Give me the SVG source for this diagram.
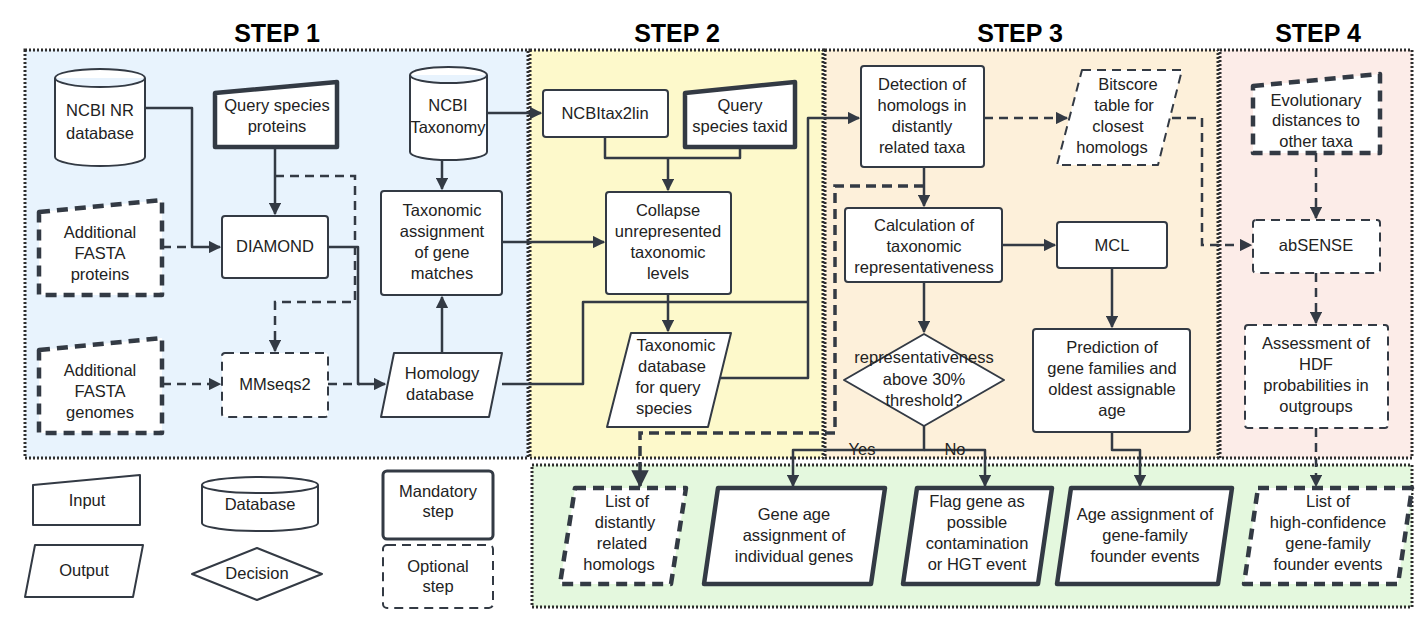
<svg xmlns="http://www.w3.org/2000/svg" width="1417" height="630" viewBox="0 0 1417 630">
<defs>
<marker id="a" viewBox="0 0 10 10" refX="9" refY="5" markerWidth="5" markerHeight="5" orient="auto-start-reverse"><path d="M0,0 L10,5 L0,10 Z" fill="#333a44"/></marker>
<style>
.p{stroke:#2e2e2e;stroke-width:3;stroke-dasharray:2 2;}
.s{fill:#fff;stroke:#333a44;stroke-width:2;stroke-linejoin:round}
.t{fill:#fff;stroke:#333a44;stroke-width:4.5;stroke-linejoin:round}
.d{fill:#fff;stroke:#333a44;stroke-width:2;stroke-dasharray:9 6;stroke-linejoin:round}
.dt{fill:#fff;stroke:#333a44;stroke-width:4.5;stroke-dasharray:11 7;stroke-linejoin:round}
text{font-family:"Liberation Sans",Arial,sans-serif;font-size:16.5px;fill:#222;text-anchor:middle}
.h{font-size:25px;font-weight:bold;fill:#000}
.c{fill:none;stroke:#333a44;stroke-width:2.5;stroke-linejoin:round}
.cd{fill:none;stroke:#333a44;stroke-width:2.5;stroke-dasharray:9 6}
.ct{fill:none;stroke:#333a44;stroke-width:3.5;stroke-dasharray:10 6}
</style>
</defs>
<rect width="1417" height="630" fill="#fff"/>
<g id="panels">
<rect x="25" y="50" width="503" height="408" fill="#e8f3fd" class="p"/>
<rect x="530" y="50" width="293" height="408" fill="#fdf9cb" class="p"/>
<rect x="825" y="50" width="393" height="408" fill="#fdf0da" class="p"/>
<rect x="1220" y="50" width="192" height="408" fill="#fcece8" class="p"/>
<rect x="532" y="465" width="880" height="142" fill="#e4f8de" class="p"/>
<text class="h" x="277" y="42">STEP 1</text>
<text class="h" x="677" y="42">STEP 2</text>
<text class="h" x="1020" y="42">STEP 3</text>
<text class="h" x="1318" y="42">STEP 4</text>
</g>
<g id="connectors">
<path class="c" d="M145,108 H192 V247 H220" marker-end="url(#a)"/>
<path class="cd" d="M162,247 H192"/>
<path class="c" d="M275,147 V214" marker-end="url(#a)"/>
<path class="cd" d="M275,176 H355 V302 H275 V351" marker-end="url(#a)"/>
<path class="c" d="M328,247 H358 V384 H385" marker-end="url(#a)"/>
<path class="cd" d="M328,384 H360"/>
<path class="cd" d="M162,384 H220" marker-end="url(#a)"/>
<path class="c" d="M442,353 V297" marker-end="url(#a)"/>
<path class="c" d="M442,160 V189" marker-end="url(#a)"/>
<path class="c" d="M487,113 H541" marker-end="url(#a)"/>
<path class="c" d="M502,242 H604" marker-end="url(#a)"/>
<path class="c" d="M605,137 V158 H740 V147"/>
<path class="c" d="M668,158 V190" marker-end="url(#a)"/>
<path class="c" d="M668,294 V331" marker-end="url(#a)"/>
<path class="c" d="M502,384 H583 V302 H808"/>
<path class="c" d="M720,378 H808 V118 H859" marker-end="url(#a)"/>
<path class="c" d="M924,167 V206" marker-end="url(#a)"/>
<path class="ct" d="M924,186 H835 V433 H640 V486" marker-end="url(#a)"/>
<path class="cd" d="M984,118 H1067" marker-end="url(#a)"/>
<path class="cd" d="M1172,118 H1202 V245 H1251" marker-end="url(#a)"/>
<path class="c" d="M1002,245 H1055" marker-end="url(#a)"/>
<path class="c" d="M924,282 V332" marker-end="url(#a)"/>
<path class="c" d="M924,426 V450 H793 V486" marker-end="url(#a)"/>
<path class="c" d="M924,450 H985 V486" marker-end="url(#a)"/>
<path class="c" d="M1112,268 V327" marker-end="url(#a)"/>
<path class="c" d="M1112,432 V450 H1140 V486" marker-end="url(#a)"/>
<path class="cd" d="M1316,153 V218" marker-end="url(#a)"/>
<path class="cd" d="M1316,273 V323" marker-end="url(#a)"/>
<path class="cd" d="M1316,428 V486" marker-end="url(#a)"/>
<text x="862" y="455">Yes</text>
<text x="955" y="455">No</text>
</g>
<g id="ncbi-nr"><path class="s" d="M55,78 A45,9 0 0 1 145,78 V157 A45,9 0 0 1 55,157 Z M55,78 A45,9 0 0 0 145,78"/><text x="100" y="116">NCBI NR</text><text x="100" y="139">database</text></g>
<g id="query-proteins"><path class="t" d="M215,93 L337,82 V147 H215 Z"/><text x="277" y="111">Query species</text><text x="277" y="132">proteins</text></g>
<g id="ncbi-tax"><path class="s" d="M410,75 A38,8 0 0 1 487,75 V152 A38,8 0 0 1 410,152 Z M410,75 A38,8 0 0 0 487,75"/><text x="448" y="111">NCBI</text><text x="448" y="133">Taxonomy</text></g>
<g id="add-proteins"><path class="dt" d="M39,212 L162,200 V295 H39 Z"/><text x="100" y="238">Additional</text><text x="100" y="259">FASTA</text><text x="100" y="280">proteins</text></g>
<g id="diamond"><rect class="s" x="222" y="216" width="106" height="62" rx="3"/><text x="275" y="252">DIAMOND</text></g>
<g id="tax-assign"><rect class="s" x="381" y="191" width="121" height="104" rx="3"/><text x="442" y="216">Taxonomic</text><text x="442" y="237">assignment</text><text x="442" y="258">of gene</text><text x="442" y="279">matches</text></g>
<g id="add-genomes"><path class="dt" d="M39,350 L162,338 V433 H39 Z"/><text x="100" y="376">Additional</text><text x="100" y="397">FASTA</text><text x="100" y="418">genomes</text></g>
<g id="mmseqs"><rect class="d" x="222" y="353" width="106" height="64" rx="3"/><text x="275" y="390">MMseqs2</text></g>
<g id="homology"><path class="s" d="M394,353 H502 L489,417 H381 Z"/><text x="442" y="379">Homology</text><text x="440" y="400">database</text></g>
<g id="ncbitax2lin"><rect class="s" x="543" y="90" width="125" height="47" rx="3"/><text x="605" y="119">NCBItax2lin</text></g>
<g id="query-taxid"><path class="t" d="M685,93 L795,82 V147 H685 Z"/><text x="740" y="111">Query</text><text x="740" y="132">species taxid</text></g>
<g id="collapse"><rect class="s" x="606" y="192" width="125" height="102" rx="3"/><text x="668" y="216">Collapse</text><text x="668" y="237">unrepresented</text><text x="668" y="258">taxonomic</text><text x="668" y="279">levels</text></g>
<g id="tax-db"><path class="s" d="M631,333 H731 L708,427 H607 Z"/><text x="676" y="351">Taxonomic</text><text x="672" y="372">database</text><text x="668" y="393">for query</text><text x="664" y="414">species</text></g>
<g id="detection"><rect class="s" x="861" y="66" width="123" height="101" rx="3"/><text x="922" y="90">Detection of</text><text x="922" y="111">homologs in</text><text x="922" y="132">distantly</text><text x="922" y="153">related taxa</text></g>
<g id="bitscore"><path class="d" d="M1082,70 H1182 L1158,165 H1057 Z"/><text x="1128" y="90">Bitscore</text><text x="1124" y="111">table for</text><text x="1118" y="132">closest</text><text x="1112" y="153">homologs</text></g>
<g id="calc"><rect class="s" x="845" y="208" width="157" height="74" rx="3"/><text x="924" y="231">Calculation of</text><text x="924" y="252">taxonomic</text><text x="924" y="273">representativeness</text></g>
<g id="mcl"><rect class="s" x="1057" y="222" width="110" height="46" rx="3"/><text x="1112" y="251">MCL</text></g>
<g id="decision"><path class="s" d="M924,334 L1004,380 L924,426 L844,380 Z"/><text x="924" y="363">representativeness</text><text x="924" y="385">above 30%</text><text x="924" y="406">threshold?</text></g>
<g id="prediction"><rect class="s" x="1033" y="329" width="157" height="103" rx="3"/><text x="1112" y="353">Prediction of</text><text x="1112" y="374">gene families and</text><text x="1112" y="395">oldest assignable</text><text x="1112" y="416">age</text></g>
<g id="evol"><path class="dt" d="M1253,86 L1380,74 V153 H1253 Z"/><text x="1316" y="106">Evolutionary</text><text x="1316" y="126">distances to</text><text x="1316" y="147">other taxa</text></g>
<g id="absense"><rect class="d" x="1253" y="220" width="127" height="53" rx="3"/><text x="1316" y="251">abSENSE</text></g>
<g id="assessment"><rect class="d" x="1245" y="325" width="143" height="103" rx="3"/><text x="1316" y="349">Assessment of</text><text x="1316" y="370">HDF</text><text x="1316" y="391">probabilities in</text><text x="1316" y="412">outgroups</text></g>
<g id="list-distant"><path class="dt" d="M575,488 H686 L671,584 H560 Z"/><text x="627" y="507">List of</text><text x="625" y="528">distantly</text><text x="622" y="549">related</text><text x="619" y="570">homologs</text></g>
<g id="gene-age"><path class="t" d="M718,488 H885 L871,584 H704 Z"/><text x="794" y="520">Gene age</text><text x="794" y="541">assignment of</text><text x="794" y="562">individual genes</text></g>
<g id="flag"><path class="t" d="M917,488 H1052 L1038,584 H903 Z"/><text x="977" y="507">Flag gene as</text><text x="977" y="528">possible</text><text x="977" y="549">contamination</text><text x="977" y="570">or HGT event</text></g>
<g id="age-family"><path class="t" d="M1071,488 H1232 L1218,584 H1057 Z"/><text x="1145" y="520">Age assignment of</text><text x="1145" y="541">gene-family</text><text x="1145" y="562">founder events</text></g>
<g id="list-hc"><path class="dt" d="M1258,488 H1412 L1398,584 H1244 Z"/><text x="1328" y="507">List of</text><text x="1328" y="528">high-confidence</text><text x="1328" y="549">gene-family</text><text x="1328" y="570">founder events</text></g>
<g id="legend">
<path class="s" d="M33,485 L140,475 V525 H33 Z"/><text x="87" y="506">Input</text>
<path class="s" d="M202,485 A58,8 0 0 1 318,485 V523 A58,8 0 0 1 202,523 Z M202,485 A58,8 0 0 0 318,485"/><text x="260" y="510">Database</text>
<rect class="s" x="383" y="471" width="110" height="68" rx="4" style="stroke-width:3"/><text x="438" y="497">Mandatory</text><text x="438" y="517">step</text>
<path class="s" d="M35,545 H143 L133,597 H25 Z"/><text x="84" y="576">Output</text>
<path class="s" d="M257,548 L322,574 L257,600 L192,574 Z"/><text x="257" y="579">Decision</text>
<rect class="d" x="383" y="545" width="110" height="63" rx="4"/><text x="438" y="572">Optional</text><text x="438" y="592">step</text>
</g>
</svg>
